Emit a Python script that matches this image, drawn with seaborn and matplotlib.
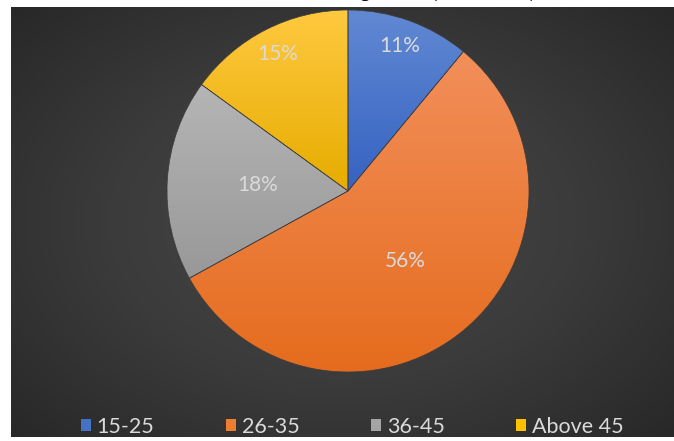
import numpy as np
import matplotlib
matplotlib.use("Agg")
import matplotlib.pyplot as plt
from matplotlib.colors import LinearSegmentedColormap, to_rgb
from matplotlib.patches import Patch
import seaborn as sns

# Age groups and their share of respondents (percent)
age_groups = ["15-25", "26-35", "36-45", "Above 45"]
shares = [11, 56, 18, 15]
pct_labels = ["11%", "56%", "18%", "15%"]
title_text = "Number of Students Age-wise (All Classes)"

sns.set_theme(style="white")
plt.rcParams["font.family"] = ["Lato", "DejaVu Sans"]

base_colors = sns.color_palette(["#4472C4", "#ED7D31", "#A5A5A5", "#FFC000"])
grad_top = ["#6189D3", "#F28F5A", "#B5B5B5", "#FFC940"]
grad_bottom = ["#3662C1", "#E56C1E", "#989898", "#E6AC00"]
label_radius = [0.85, 0.5, 0.5, 0.85]
text_color = "#DADADA"

W, H = 674, 441
fig = plt.figure(figsize=(W / 100, H / 100), dpi=100)
fig.patch.set_facecolor("white")

# dark chart area with a soft radial glow
bg = fig.add_axes([11 / W, 4 / H, 663 / W, 430 / H])
bg.set_axis_off()
nx, ny = 663, 430
xx, yy = np.meshgrid(np.linspace(-1, 1, nx), np.linspace(-1, 1, ny))
rr = np.sqrt(xx ** 2 + (yy * 0.95) ** 2) / np.sqrt(2)
bg_cmap = LinearSegmentedColormap.from_list("bg", ["#484848", "#3b3b3b", "#272727"])
bg.imshow(rr, cmap=bg_cmap, vmin=0, vmax=1, aspect="auto",
          extent=[0, 1, 0, 1], interpolation="bicubic")
bg.set_xlim(0, 1)
bg.set_ylim(0, 1)

# pie
cx, cy, rad = 348, 191, 181
ax = fig.add_axes([(cx - rad) / W, 1 - (cy + rad) / H, 2 * rad / W, 2 * rad / H])
wedges, _ = ax.pie(shares, colors=base_colors, startangle=90, counterclock=False,
                   radius=1.0, wedgeprops=dict(edgecolor="#3c3c3c", linewidth=0.5))

# vertical shading inside each slice, lighter at the top
for w, top, bot in zip(wedges, grad_top, grad_bottom):
    ext = w.get_path().get_extents()
    ramp = np.linspace(0, 1, 256).reshape(-1, 1)
    cmap = LinearSegmentedColormap.from_list("g", [to_rgb(bot), to_rgb(top)])
    im = ax.imshow(ramp, cmap=cmap, aspect="auto",
                   extent=[ext.x0, ext.x1, ext.y0, ext.y1], origin="lower",
                   interpolation="bilinear", zorder=w.get_zorder())
    im.set_clip_path(w)
    w.set_zorder(w.get_zorder() + 0.1)
    w.set_facecolor("none")

# percentage labels
cum = np.cumsum([0] + shares)
total = float(sum(shares))
for i, lab in enumerate(pct_labels):
    mid = 90 - 360 * (cum[i] + shares[i] / 2) / total
    r = label_radius[i]
    ax.text(r * np.cos(np.radians(mid)), r * np.sin(np.radians(mid)), lab,
            ha="center", va="center", fontsize=15, color=text_color, zorder=5)

ax.set_xlim(-1, 1)
ax.set_ylim(-1, 1)
ax.set_axis_off()

# title sits above the visible area, only its descenders reach down
fig.text(0.52, 1 + 2.5 / H, title_text, ha="center", va="baseline",
         fontsize=14, fontweight="bold", color="black")

# legend
handles = [Patch(facecolor=c, edgecolor="none") for c in base_colors]
leg = fig.legend(handles, age_groups, loc="center", bbox_to_anchor=(352 / W, 1 - 427 / H),
                 ncol=4, frameon=False, fontsize=15.5, handlelength=0.5, handleheight=0.5,
                 handletextpad=0.25, columnspacing=3.3, borderpad=0)
for t in leg.get_texts():
    t.set_color(text_color)

fig.savefig("out.png", dpi=100, facecolor=fig.get_facecolor())
